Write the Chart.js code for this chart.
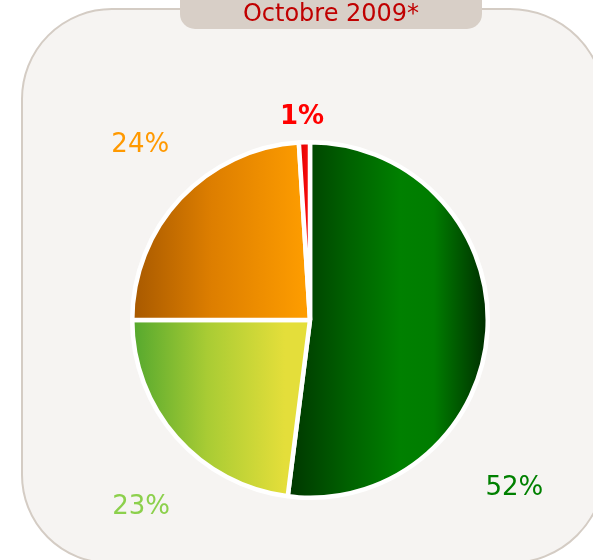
<!DOCTYPE html>
<html>
<head>
<meta charset="utf-8">
<script src="https://cdn.jsdelivr.net/npm/chart.js@4/dist/chart.umd.min.js"></script>
<style>
html,body{margin:0;padding:0;background:#ffffff;}
#wrap{width:593px;height:560px;position:relative;}
</style>
</head>
<body>
<div id="wrap"><canvas id="c" width="593" height="560"></canvas></div>
<script>
// ---- data ----
const title = "Octobre 2009*";
const categories = ["Vert", "Jaune", "Orange", "Rouge"];
const values = [52, 23, 24, 1];
const valueLabels = ["52%", "23%", "24%", "1%"];
const labelColors = ["#008000", "#8cd04c", "#ff9900", "#ff0000"];
const labelWeights = ["normal", "normal", "normal", "bold"];
// label anchors as multiples of the pie radius from its centre
const labelDX = [1.15, -0.95, -0.955, -0.045];
const labelDY = [0.944, 1.056, -0.983, -1.14];

function gradFor(chart, idx) {
  const ca = chart.chartArea;
  const fallback = ["#008000", "#cfd83a", "#f08c00", "#ff0000"][idx];
  if (!ca || !isFinite(ca.left) || !isFinite(ca.right)) return fallback;
  const ctx = chart.ctx;
  const cx = (ca.left + ca.right) / 2;
  const r = Math.min(ca.right - ca.left, ca.bottom - ca.top) / 2;
  if (!isFinite(cx) || !isFinite(r) || r <= 0) return fallback;
  let g;
  if (idx === 0) {
    g = ctx.createLinearGradient(cx - 20, 0, cx + r, 0);
    g.addColorStop(0, "#003800");
    g.addColorStop(0.3, "#006200");
    g.addColorStop(0.55, "#008000");
    g.addColorStop(0.72, "#007c00");
    g.addColorStop(1, "#002a00");
  } else if (idx === 1) {
    g = ctx.createLinearGradient(cx - r, 0, cx - 25, 0);
    g.addColorStop(0, "#52a72e");
    g.addColorStop(0.5, "#a9cc34");
    g.addColorStop(1, "#e4de3a");
  } else if (idx === 2) {
    g = ctx.createLinearGradient(cx - r, 0, cx, 0);
    g.addColorStop(0, "#a65800");
    g.addColorStop(0.45, "#dd7e00");
    g.addColorStop(1, "#ff9e00");
  } else {
    g = ctx.createLinearGradient(cx - 10, 0, cx, 0);
    g.addColorStop(0, "#e00000");
    g.addColorStop(1, "#ff1010");
  }
  return g;
}

function roundRect(ctx, x, y, w, h, rtl, rtr, rbr, rbl) {
  ctx.beginPath();
  ctx.moveTo(x + rtl, y);
  ctx.lineTo(x + w - rtr, y);
  if (rtr > 0) ctx.arcTo(x + w, y, x + w, y + rtr, rtr); else ctx.lineTo(x + w, y);
  ctx.lineTo(x + w, y + h - rbr);
  if (rbr > 0) ctx.arcTo(x + w, y + h, x + w - rbr, y + h, rbr); else ctx.lineTo(x + w, y + h);
  ctx.lineTo(x + rbl, y + h);
  if (rbl > 0) ctx.arcTo(x, y + h, x, y + h - rbl, rbl); else ctx.lineTo(x, y + h);
  ctx.lineTo(x, y + rtl);
  if (rtl > 0) ctx.arcTo(x, y, x + rtl, y, rtl); else ctx.lineTo(x, y);
  ctx.closePath();
}

const framePlugin = {
  id: "frame",
  beforeDraw(chart) {
    const ctx = chart.ctx;
    ctx.save();
    ctx.fillStyle = "#ffffff";
    ctx.fillRect(0, 0, chart.width, chart.height);
    roundRect(ctx, 22, 9, 583, 554, 90, 95, 95, 88);
    ctx.fillStyle = "#f6f4f2";
    ctx.fill();
    ctx.lineWidth = 2;
    ctx.strokeStyle = "#d4ccc4";
    ctx.stroke();
    // title tab
    roundRect(ctx, 180, -20, 302, 49, 0, 0, 15, 15);
    ctx.fillStyle = "#d8cfc7";
    ctx.fill();
    ctx.fillStyle = "#c00000";
    ctx.font = "24px 'DejaVu Sans'";
    ctx.textAlign = "center";
    ctx.textBaseline = "alphabetic";
    ctx.fillText(title, 331, 21);
    ctx.restore();
  },
  afterDraw(chart) {
    const ctx = chart.ctx;
    const meta = chart.getDatasetMeta(0);
    const a = meta.data[0];
    const cx = a.x, cy = a.y, r = a.outerRadius;
    ctx.save();
    ctx.textAlign = "center";
    ctx.textBaseline = "middle";
    valueLabels.forEach((t, i) => {
      ctx.font = labelWeights[i] + " 26px 'DejaVu Sans'";
      ctx.fillStyle = labelColors[i];
      ctx.fillText(t, cx + labelDX[i] * r, cy + labelDY[i] * r);
    });
    ctx.restore();
  }
};

new Chart(document.getElementById("c"), {
  type: "pie",
  data: {
    labels: categories,
    datasets: [{
      data: values,
      backgroundColor: (c) => gradFor(c.chart, c.dataIndex),
      borderColor: "#ffffff",
      borderWidth: 4.5
    }]
  },
  options: {
    responsive: false,
    animation: false,
    devicePixelRatio: 1,
    layout: { padding: { left: 130, right: 103, top: 140, bottom: 60 } },
    plugins: {
      legend: { display: false },
      tooltip: { enabled: false },
      title: { display: false }
    }
  },
  plugins: [framePlugin]
});
</script>
</body>
</html>
